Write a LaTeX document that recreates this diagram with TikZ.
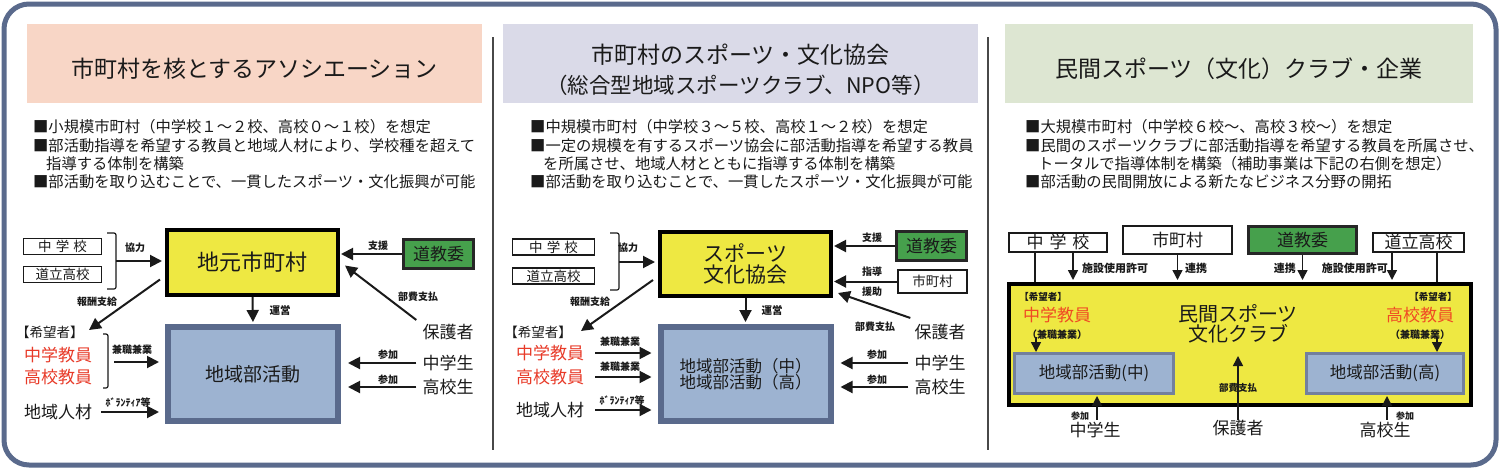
\documentclass[tikz,border=0pt]{standalone}
\usepackage{fontspec}
\setmainfont{Noto Sans CJK JP}
\usetikzlibrary{arrows.meta,calc}
\definecolor{frame}{HTML}{5A6A8C}
\definecolor{ink}{HTML}{1A1A1A}
\definecolor{pinkh}{HTML}{F8D6C6}
\definecolor{lavh}{HTML}{DADAE8}
\definecolor{greenh}{HTML}{DDE6D2}
\definecolor{yel}{HTML}{EEE842}
\definecolor{grn}{HTML}{46A04C}
\definecolor{blu}{HTML}{9DB3D1}
\definecolor{bord}{HTML}{5A6A8C}
\definecolor{redt}{HTML}{E83A28}
\definecolor{redo}{HTML}{F04A24}
\newcommand\FS[1]{\fontsize{#1pt}{#1pt}\selectfont}
\tikzset{
 txt/.style={inner sep=0pt, text=ink},
 lab/.style={inner sep=0pt, text=ink, font={\FS{10}\bfseries}},
 wbox/.style={draw=ink, line width=1.5pt, fill=white, inner sep=0pt, text=ink},
 ybox/.style={draw=black, line width=4pt, fill=yel, inner sep=0pt, text=ink},
 gbox/.style={draw=black!85, line width=2.5pt, fill=grn, inner sep=0pt, text=ink},
 bbox/.style={draw=bord, line width=6pt, fill=blu, inner sep=0pt, text=ink},
 bbox2/.style={draw=bord!85, line width=3pt, fill=blu, inner sep=0pt, text=ink},
 arr/.style={draw=ink, line width=2pt, -{Triangle[length=12pt,width=12pt]}},
 sarr/.style={draw=ink, line width=1.5pt, -{Triangle[length=10pt,width=10pt]}},
 ln/.style={draw=ink, line width=1.5pt},
 brk/.style={draw=ink, line width=1.2pt, rounded corners=2pt},
 bul/.style={inner sep=0pt, text=ink, anchor=west, font=\FS{15.3}},
 head/.style={inner sep=0pt, text=ink, font=\FS{23}, align=center},
}
\begin{document}
\begin{tikzpicture}[x=1pt,y=-1pt]
\useasboundingbox (0,0) rectangle (1500,469);
\fill[white] (0,0) rectangle (1500,469);
% frame
\draw[frame, line width=5pt, rounded corners=25pt] (4,4) rectangle (1496,465);
\draw[ink!80, line width=1.2pt] (493,37) -- (493,450);
\draw[ink!80, line width=1.2pt] (988,37) -- (988,450);
% headers
\fill[pinkh] (27,24) rectangle (482,103);
\fill[lavh] (503,24) rectangle (978,103);
\fill[greenh] (1005,24) rectangle (1473,103);
\node[head] (h1) at (254.5,69) {市町村を核とするアソシエーション};
\node[head] (h2a) at (740.5,55) {市町村のスポーツ・文化協会};
\node[head, font=\FS{21.5}] (h2b) at (740.5,85) {（総合型地域スポーツクラブ、NPO等）};
\node[head] (h3) at (1239,69) {民間スポーツ（文化）クラブ・企業};
% bullets
\node[bul] (b11) at (33,127) {■小規模市町村（中学校１～２校、高校０～１校）を想定};
\node[bul] (b12) at (33,146) {■部活動指導を希望する教員と地域人材により、学校種を超えて};
\node[bul] (b13) at (46,164) {指導する体制を構築};
\node[bul] (b14) at (33,182) {■部活動を取り込むことで、一貫したスポーツ・文化振興が可能};
\node[bul] (b21) at (530,127) {■中規模市町村（中学校３～５校、高校１～２校）を想定};
\node[bul] (b22) at (530,146) {■一定の規模を有するスポーツ協会に部活動指導を希望する教員};
\node[bul] (b23) at (543,164) {を所属させ、地域人材とともに指導する体制を構築};
\node[bul] (b24) at (530,182) {■部活動を取り込むことで、一貫したスポーツ・文化振興が可能};
\node[bul] (b31) at (1025,127) {■大規模市町村（中学校６校～、高校３校～）を想定};
\node[bul] (b32) at (1025,146) {■民間のスポーツクラブに部活動指導を希望する教員を所属させ、};
\node[bul] (b33) at (1038,164) {トータルで指導体制を構築（補助事業は下記の右側を想定）};
\node[bul] (b34) at (1025,182) {■部活動の民間開放による新たなビジネス分野の開拓};

% ===== left diagram =====
\node[ybox, minimum width=171pt, minimum height=65pt, font=\FS{22}] (Y1) at (252.5,262.5) {地元市町村};
\node[gbox, minimum width=70pt, minimum height=29pt, font=\FS{17}] (G1) at (438.5,254) {道教委};
\node[wbox, minimum width=78pt, minimum height=16pt, font=\FS{13.5}] (C1) at (62.5,246.5) {中\hspace{.3em}学\hspace{.3em}校};
\node[wbox, minimum width=78pt, minimum height=16pt, font=\FS{13.5}] (D1) at (62.5,274.5) {道立高校};
\draw[brk] (107,233) -- (116,233) -- (116,289) -- (107,289);
\coordinate (K1) at (116,261);
\draw[arr, shorten >=3pt] (K1) -- (Y1.west |- K1);
\node[lab] at (135,248) {協力};
\draw[arr, shorten >=1pt] (G1.west) -- (Y1.east |- G1.west);
\node[lab] at (378,246) {支援};
\node[txt, font=\FS{17}] (P1) at (448,332) {保護者};
\draw[arr] ($(P1.north west)+(-6,-4)$) -- ($(Y1.east)+(5,3)$);
\node[lab] at (418,297) {部費支払};
\node[txt, font=\FS{13.5}] (H1) at (50,332) {【希望者】};
\node[txt, font=\FS{17}, text=redt] (T1) at (58,355) {中学教員};
\node[txt, font=\FS{17}, text=redt] (T2) at (58,377) {高校教員};
\draw[arr] ($(Y1.west)+(-5,17)$) -- ($(H1.east)+(5,-2)$);
\node[lab] at (97,302) {報酬支給};
\node[bbox, minimum width=170pt, minimum height=94pt, font=\FS{19}] (B1) at (253,374) {地域部活動};
\draw[arr, shorten >=2pt] (Y1.south) -- (B1.north);
\node[lab, font={\FS{10.5}\bfseries}] at (280,310) {運営};
\draw[brk] (103,334) -- (108,334) -- (108,388) -- (103,388);
\coordinate (K2) at (114,362);
\draw[arr, shorten >=6pt] (K2) -- (B1.west |- K2);
\node[lab] at (132,350) {兼職兼業};
\node[txt, font=\FS{17}] (R1) at (58,412) {地域人材};
\draw[arr, shorten >=6pt] ($(R1.east)+(9,0)$) -- (B1.west |- R1);
\node[lab] at (128,403) {ﾎﾞﾗﾝﾃｨｱ等};
\node[txt, font=\FS{17}] (S1) at (448,363) {中学生};
\node[txt, font=\FS{17}] (S2) at (448,387) {高校生};
\draw[arr, shorten >=7pt] ($(S1.west)+(-6,0)$) -- (B1.east |- S1);
\draw[arr, shorten >=7pt] ($(S2.west)+(-6,0)$) -- (B1.east |- S2);
\node[lab] at (388,355) {参加};
\node[lab] at (388,380) {参加};

% ===== middle diagram =====
\node[ybox, minimum width=171pt, minimum height=64pt, font=\FS{21}, align=center] (Y2) at (745.5,264) {\fontsize{21pt}{32pt}\selectfont スポーツ\\文化協会};
\node[gbox, minimum width=70pt, minimum height=29pt, font=\FS{17}] (G2) at (931.5,246) {道教委};
\node[wbox, minimum width=69pt, minimum height=23pt, font=\FS{13.5}] (M2) at (932.5,281.5) {市町村};
\node[wbox, minimum width=82pt, minimum height=16pt, font=\FS{13.5}] (C2) at (553.5,247) {中\hspace{.3em}学\hspace{.3em}校};
\node[wbox, minimum width=82pt, minimum height=16pt, font=\FS{13.5}] (D2) at (553.5,276) {道立高校};
\draw[brk] (610,233) -- (619,233) -- (619,290) -- (610,290);
\coordinate (K3) at (619,262);
\draw[arr, shorten >=3pt] (K3) -- (Y2.west |- K3);
\node[lab] at (628,248) {協力};
\draw[arr, shorten >=1pt] (G2.west) -- (Y2.east |- G2.west);
\node[lab] at (872,238) {支援};
\draw[arr, shorten >=1pt] (M2.west) -- (Y2.east |- M2.west);
\node[lab] at (872,272) {指導};
\node[lab] at (872,292) {援助};
\node[txt, font=\FS{17}] (P2) at (940,332) {保護者};
\draw[arr] ($(P2.north west)+(-4,-6)$) -- ($(Y2.east)+(5,29)$);
\node[lab] at (875,327) {部費支払};
\node[txt, font=\FS{13.5}] (H2) at (538,332) {【希望者】};
\node[txt, font=\FS{17}, text=redt] (T3) at (550,353) {中学教員};
\node[txt, font=\FS{17}, text=redt] (T4) at (550,377) {高校教員};
\draw[arr] ($(Y2.west)+(-5,16)$) -- ($(H2.east)+(9,-1)$);
\node[lab] at (590,302) {報酬支給};
\node[bbox, minimum width=170pt, minimum height=94pt, font=\FS{16.5}, align=center] (B2) at (745.5,374) {\fontsize{16.5pt}{23pt}\selectfont 地域部活動（中）\\地域部活動（高）};
\draw[arr, shorten >=2pt] (Y2.south) -- (B2.north);
\node[lab, font={\FS{10.5}\bfseries}] at (772,310) {運営};
\draw[arr, shorten >=6pt] ($(T3.east)+(11,0)$) -- (B2.west |- T3);
\draw[arr, shorten >=6pt] ($(T4.east)+(11,0)$) -- (B2.west |- T4);
\node[lab] at (620,342) {兼職兼業};
\node[lab] at (620,367) {兼職兼業};
\node[txt, font=\FS{17}] (R2) at (550,410) {地域人材};
\draw[arr, shorten >=6pt] ($(R2.east)+(11,0)$) -- (B2.west |- R2);
\node[lab] at (622,401) {ﾎﾞﾗﾝﾃｨｱ等};
\node[txt, font=\FS{17}] (S3) at (940,363) {中学生};
\node[txt, font=\FS{17}] (S4) at (940,387) {高校生};
\draw[arr, shorten >=7pt] ($(S3.west)+(-6,0)$) -- (B2.east |- S3);
\draw[arr, shorten >=7pt] ($(S4.west)+(-6,0)$) -- (B2.east |- S4);
\node[lab] at (877,355) {参加};
\node[lab] at (877,380) {参加};

% ===== right diagram =====
\node[ybox, minimum width=462pt, minimum height=121pt] (Y3) at (1240,344.5) {};
\node[wbox, minimum width=98pt, minimum height=19pt, font=\FS{17}] (C3) at (1058,242.5) {中\hspace{.35em}学\hspace{.35em}校};
\node[wbox, minimum width=109pt, minimum height=28pt, font=\FS{17}] (M3) at (1177.5,240) {市町村};
\node[gbox, minimum width=108pt, minimum height=27pt, font=\FS{17}] (G3) at (1302.5,240) {道教委};
\node[wbox, minimum width=91pt, minimum height=19pt, font=\FS{17}] (D3) at (1418.5,242.5) {道立高校};
\draw[ln] ($(C3.south)+(-23,0)$) coordinate (c3a) -- (c3a |- Y3.north);
\draw[sarr, shorten >=2pt] ($(C3.south)+(15,0)$) coordinate (c3b) -- (c3b |- Y3.north);
\draw[sarr, shorten >=2pt] (M3.south) -- (M3.south |- Y3.north);
\draw[sarr, shorten >=2pt] (G3.south) -- (G3.south |- Y3.north);
\draw[sarr, shorten >=2pt] ($(D3.south)+(-26.5,0)$) coordinate (d3b) -- (d3b |- Y3.north);
\draw[ln] ($(D3.south)+(18.5,0)$) coordinate (d3a) -- (d3a |- Y3.north);
\node[lab, anchor=west, font={\FS{11}\bfseries}] at (1082,268) {施設使用許可};
\node[lab, anchor=west, font={\FS{11}\bfseries}] at (1185,268) {連携};
\node[lab, anchor=east, font={\FS{11}\bfseries}] at (1296,268) {連携};
\node[lab, anchor=east, font={\FS{11}\bfseries}] at (1388,268) {施設使用許可};
\node[txt, font={\FS{9.5}\bfseries}] (HL3) at (1043,297) {【希望者】};
\node[txt, font=\FS{17}, text=redo] (TL3) at (1057,315) {中学教員};
\node[txt, font={\FS{10}\bfseries}] (KL3) at (1057,335) {（兼職兼業）};
\node[txt, font={\FS{9.5}\bfseries}] (HR3) at (1433,297) {【希望者】};
\node[txt, font=\FS{17}, text=redo] (TR3) at (1420,315) {高校教員};
\node[txt, font={\FS{10}\bfseries}] (KR3) at (1420,335) {（兼職兼業）};
\node[txt, font=\FS{20}, align=center] (N3) at (1238,323.5) {\fontsize{20pt}{27pt}\selectfont 民間スポーツ\\文化クラブ};
\node[bbox2, minimum width=159pt, minimum height=40pt, font=\FS{16.5}] (BL3) at (1094,373.5) {地域部活動(中)};
\node[bbox2, minimum width=157pt, minimum height=40pt, font=\FS{16.5}] (BR3) at (1385,373.5) {地域部活動(高)};
\draw[sarr] ($(BL3.north)+(-58,-15)$) coordinate (bl3a) -- (bl3a |- BL3.north);
\draw[sarr] ($(BR3.north)+(52,-15)$) coordinate (br3a) -- (br3a |- BR3.north);
\node[txt, font=\FS{17}] (P3) at (1238,428) {保護者};
\coordinate (pt3) at (1238,356);
\draw[sarr] (P3.north) -- (pt3);
\node[lab, font={\FS{9.5}\bfseries}] at (1238,388) {部費支払};
\node[txt, font=\FS{17}] (S5) at (1095,430) {中学生};
\node[txt, font=\FS{17}] (S6) at (1385,430) {高校生};
\draw[sarr, shorten >=1pt] ($(S5.north)+(2,-2)$) coordinate (s5a) -- (s5a |- BL3.south);
\draw[sarr, shorten >=1pt] ($(S6.north)+(2,-2)$) coordinate (s6a) -- (s6a |- BR3.south);
\node[lab, font={\FS{9}\bfseries}] at (1080,416) {参加};
\node[lab, font={\FS{9}\bfseries}] at (1405,416) {参加};
\end{tikzpicture}
\end{document}
